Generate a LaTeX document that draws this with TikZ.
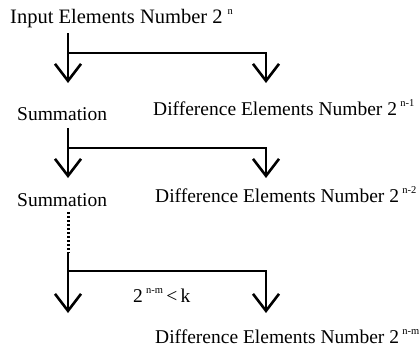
\documentclass[tikz,border=0pt]{standalone}
\usepackage{fontspec}
\setmainfont{Liberation Serif}
\usetikzlibrary{arrows.meta}
\newcommand{\mysup}[1]{\raisebox{0.42em}{\fontsize{10.5}{10.5}\selectfont #1}}
\tikzset{
  lbl/.style={anchor=base west, inner sep=0pt, font=\fontsize{19.5}{21}\selectfont},
  biglbl/.style={lbl, font=\fontsize{20.5}{22}\selectfont},
  flow/.style={line width=2.6pt},
  arr/.style={flow, -{Straight Barb[length=17pt,width=26pt,line width=2.6pt]}},
  dots/.style={line width=3pt, dash pattern=on 2pt off 2pt}
}
\begin{document}
\begin{tikzpicture}[x=1pt,y=-1pt]
\useasboundingbox (0,0) rectangle (419,348);
\node[biglbl] (in) at (10,23) {Input Elements Number 2\hspace{5pt}\mysup{n}};
\node[lbl] (s1) at (17,120) {Summation};
\node[lbl] (d1) at (153,115) {Difference Elements Number 2\,\mysup{n-1}};
\node[lbl] (s2) at (17,206) {Summation};
\node[lbl] (d2) at (155,202) {Difference Elements Number 2\,\mysup{n-2}};
\node[lbl] (ineq) at (133,302) {2\,\mysup{n-m}\,<\,k};
\node[lbl] (d3) at (155,343) {Difference Elements Number 2\,\mysup{n-m}};
% block 1
\coordinate (a1) at (68,33);
\coordinate (b1) at (68,53);
\coordinate (t1) at (68,83);
\coordinate (c1) at (266,53);
\coordinate (u1) at (266,83);
\draw[arr] (a1) -- (t1);
\draw[arr] (b1) -- (c1) -- (u1);
% block 2
\coordinate (a2) at (68,128);
\coordinate (b2) at (68,148);
\coordinate (t2) at (68,178);
\coordinate (c2) at (266,148);
\coordinate (u2) at (266,178);
\draw[arr] (a2) -- (t2);
\draw[arr] (b2) -- (c2) -- (u2);
% block 3
\coordinate (e3) at (68,212);
\coordinate (a3) at (68,253);
\coordinate (b3) at (68,271);
\coordinate (t3) at (68,313);
\coordinate (c3) at (266,271);
\coordinate (u3) at (266,313);
\draw[dots] (e3) -- (a3);
\draw[arr] (a3) -- (t3);
\draw[arr] (b3) -- (c3) -- (u3);
\end{tikzpicture}
\end{document}
